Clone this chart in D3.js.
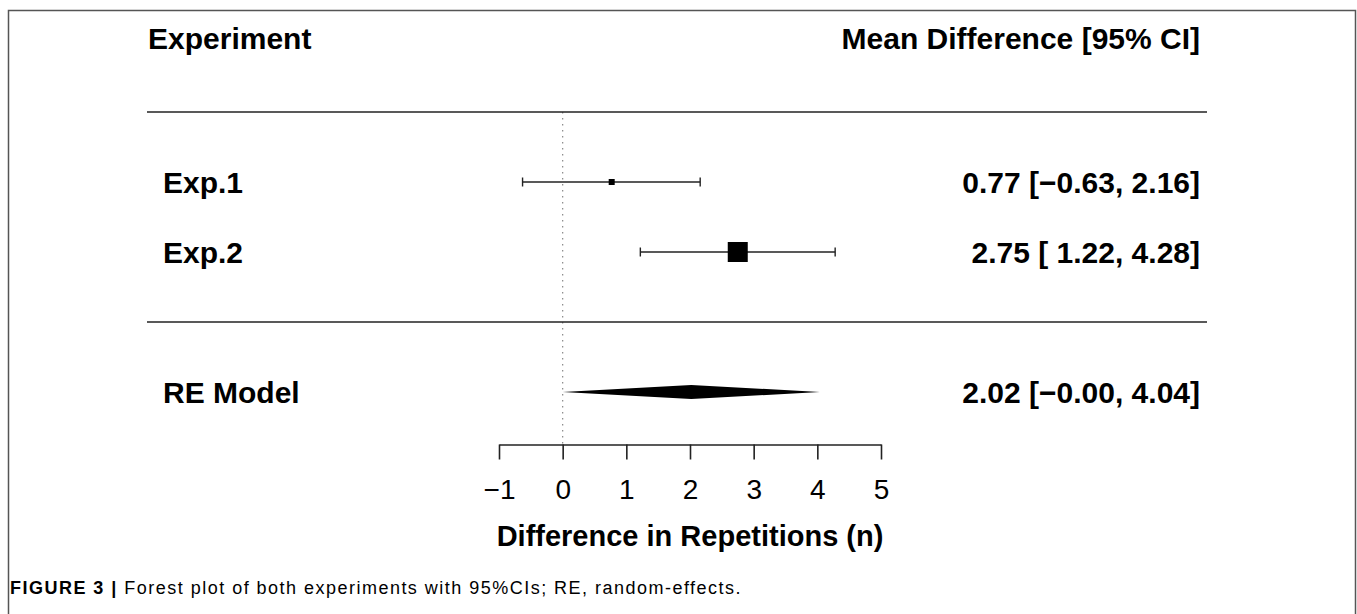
<!DOCTYPE html>
<html>
<head>
<meta charset="utf-8">
<script src="https://cdn.jsdelivr.net/npm/d3@7"></script>
<style>
  body { margin: 0; background: #fff; }
  svg { display: block; }
  text { font-family: "Liberation Sans", Arial, Helvetica, sans-serif; fill: #000; }
</style>
</head>
<body>
<svg id="chart" width="1357" height="614"></svg>
<script>
// study rows
var studies = ['Exp.1', 'Exp.2'];
var estimates = [0.77, 2.75];
var ciLower = [-0.63, 1.22];
var ciUpper = [2.16, 4.28];
var relWeights = [30, 100];
// summary (random-effects)
var summaryLabel = 'RE Model';
var summaryEst = 2.02;
var summaryLower = -0.00;
var summaryUpper = 4.04;
// axis
var xTicks = [-1, 0, 1, 2, 3, 4, 5];
var xTitle = 'Difference in Repetitions (n)';
var headLeft = 'Experiment';
var headRight = 'Mean Difference [95% CI]';
var captionBold = 'FIGURE 3 | ';
var captionText = 'Forest plot of both experiments with 95%CIs; RE, random-effects.';

var ForestPlot = (function() {
  function ForestPlot(svg) {
    this.svg = svg;
    this.left = 147;
    this.right = 1207;
    this.x = d3.scaleLinear().domain([-1, 5]).range([499, 881]);
    // metafor style rows: k..1 for studies, -1 for summary
    this.y = d3.scaleLinear().domain([3, -1]).range([112, 392]);
    this.size = d3.scaleLinear().domain([0, 100]).range([0, 20]);
    this.drawFrame();
    this.drawRefLine();
    this.drawRules();
    this.drawStudies();
    this.drawSummary();
    this.drawAxis();
    this.drawText();
  }

  ForestPlot.prototype.fmt = function(v) {
    var s = Math.abs(v).toFixed(2);
    return (v < 0 || Object.is(v, -0) ? '\u2212' : '') + s;
  };

  ForestPlot.prototype.ciText = function(est, lo, hi) {
    var l = this.fmt(lo);
    if (lo >= 0 && !Object.is(lo, -0)) l = ' ' + l;
    return this.fmt(est) + ' [' + l + ', ' + this.fmt(hi) + ']';
  };

  ForestPlot.prototype.drawFrame = function() {
    this.svg.append('path')
      .attr('d', 'M8.5,614V10.5H1355.5V614')
      .attr('fill', 'none').attr('stroke', '#555').attr('stroke-width', 1.5);
  };

  ForestPlot.prototype.drawRefLine = function() {
    this.svg.append('line')
      .attr('x1', this.x(0)).attr('x2', this.x(0))
      .attr('y1', this.y(3)).attr('y2', this.y(-1.75))
      .attr('stroke', '#888').attr('stroke-width', 1.2)
      .attr('stroke-dasharray', '1.5,4.5');
  };

  ForestPlot.prototype.drawRules = function() {
    var self = this;
    this.svg.selectAll('line.rule').data([3, 0]).enter().append('line')
      .attr('class', 'rule')
      .attr('x1', this.left).attr('x2', this.right)
      .attr('y1', function(d) { return self.y(d); })
      .attr('y2', function(d) { return self.y(d); })
      .attr('stroke', '#222').attr('stroke-width', 1.6);
  };

  ForestPlot.prototype.drawStudies = function() {
    var self = this;
    var rows = studies.map(function(s, i) {
      return { name: s, est: estimates[i], lo: ciLower[i], hi: ciUpper[i], w: relWeights[i], row: studies.length - i };
    });
    var g = this.svg.selectAll('g.study').data(rows).enter().append('g').attr('class', 'study');
    g.append('line')
      .attr('x1', function(d) { return self.x(d.lo); })
      .attr('x2', function(d) { return self.x(d.hi); })
      .attr('y1', function(d) { return self.y(d.row); })
      .attr('y2', function(d) { return self.y(d.row); })
      .attr('stroke', '#222').attr('stroke-width', 1.4);
    ['lo', 'hi'].forEach(function(k) {
      g.append('line')
        .attr('x1', function(d) { return self.x(d[k]); })
        .attr('x2', function(d) { return self.x(d[k]); })
        .attr('y1', function(d) { return self.y(d.row) - 4.5; })
        .attr('y2', function(d) { return self.y(d.row) + 4.5; })
        .attr('stroke', '#222').attr('stroke-width', 1.4);
    });
    g.append('rect')
      .attr('x', function(d) { return self.x(d.est) - self.size(d.w) / 2; })
      .attr('y', function(d) { return self.y(d.row) - self.size(d.w) / 2; })
      .attr('width', function(d) { return self.size(d.w); })
      .attr('height', function(d) { return self.size(d.w); })
      .attr('fill', '#000');
    g.append('text')
      .attr('x', 163)
      .attr('y', function(d) { return self.y(d.row) + 11; })
      .attr('font-size', 30).attr('font-weight', 'bold')
      .text(function(d) { return d.name; });
    g.append('text')
      .attr('x', 1200).attr('text-anchor', 'end')
      .attr('y', function(d) { return self.y(d.row) + 11; })
      .attr('font-size', 30).attr('font-weight', 'bold')
      .style('white-space', 'pre')
      .text(function(d) { return self.ciText(d.est, d.lo, d.hi); });
  };

  ForestPlot.prototype.drawSummary = function() {
    var x = this.x, yc = this.y(-1);
    var pts = [[x(summaryLower), yc], [x(summaryEst), yc - 7], [x(summaryUpper), yc], [x(summaryEst), yc + 7]];
    this.svg.append('polygon')
      .attr('points', pts.map(function(p) { return p.join(','); }).join(' '))
      .attr('fill', '#000');
    this.svg.append('text')
      .attr('x', 163).attr('y', yc + 11)
      .attr('font-size', 30).attr('font-weight', 'bold')
      .text(summaryLabel);
    this.svg.append('text')
      .attr('x', 1200).attr('y', yc + 11).attr('text-anchor', 'end')
      .attr('font-size', 30).attr('font-weight', 'bold')
      .style('white-space', 'pre')
      .text(this.ciText(summaryEst, summaryLower, summaryUpper));
  };

  ForestPlot.prototype.drawAxis = function() {
    var axis = d3.axisBottom(this.x)
      .tickValues(xTicks)
      .tickSize(15)
      .tickSizeOuter(0)
      .tickPadding(20)
      .tickFormat(function(d) { return d < 0 ? '\u2212' + Math.abs(d) : d; });
    var ax = this.svg.append('g')
      .attr('transform', 'translate(0,' + this.y(-1.75) + ')')
      .call(axis);
    ax.select('.domain').attr('stroke', '#222').attr('stroke-width', 1.6);
    ax.selectAll('.tick line').attr('stroke', '#222').attr('stroke-width', 1.6);
    ax.selectAll('.tick text')
      .attr('font-size', 28).attr('fill', '#000')
      .attr('font-family', '"Liberation Sans", Arial, sans-serif');
    this.svg.append('text')
      .attr('x', this.x(2)).attr('y', 546).attr('text-anchor', 'middle')
      .attr('font-size', 29).attr('font-weight', 'bold')
      .text(xTitle);
  };

  ForestPlot.prototype.drawText = function() {
    this.svg.append('text')
      .attr('x', this.left + 1).attr('y', 49)
      .attr('font-size', 30).attr('font-weight', 'bold')
      .text(headLeft);
    this.svg.append('text')
      .attr('x', 1200).attr('y', 49).attr('text-anchor', 'end')
      .attr('font-size', 30).attr('font-weight', 'bold')
      .text(headRight);
    var cap = this.svg.append('text')
      .attr('x', 10).attr('y', 594)
      .attr('font-size', 18)
      .style('white-space', 'pre');
    cap.append('tspan').attr('font-weight', 'bold').text(captionBold);
    cap.append('tspan').text(captionText);
    // stretch caption to the width it has in the figure
    var w = cap.node().getComputedTextLength();
    var n = (captionBold + captionText).length;
    cap.attr('letter-spacing', ((732 - w) / n).toFixed(2));
  };

  return ForestPlot;
})();

new ForestPlot(d3.select('#chart'));
</script>
</body>
</html>
